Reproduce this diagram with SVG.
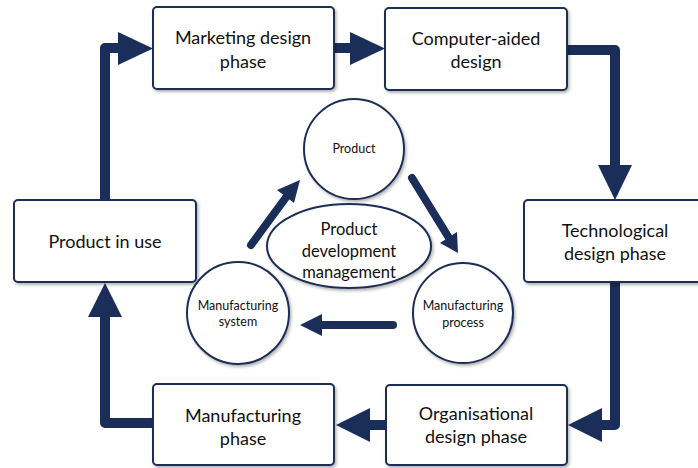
<svg xmlns="http://www.w3.org/2000/svg" width="698" height="468" viewBox="0 0 698 468">
<style>
.box{fill:#fff;stroke:#1d2d55;stroke-width:2;filter:url(#sh)}
.t{font-family:Lato,"Open Sans",sans-serif;fill:#111;text-anchor:middle}
.big{font-size:18px}
.mid{font-size:16.5px}
.sm{font-size:12.5px}
.flow{fill:none;stroke:#1b2e5a;stroke-width:10;stroke-linejoin:round}
.head{fill:#1b2e5a}
.inner{stroke:#1b2e5a;stroke-width:8;stroke-linecap:round;fill:none}
</style>
<defs>
<filter id="sh" x="-10%" y="-10%" width="130%" height="130%">
<feDropShadow dx="1.5" dy="2" stdDeviation="1.5" flood-color="#000" flood-opacity="0.3"/>
</filter>
</defs>
<g id="connectors">
<path class="flow" d="M105,200 V48 H125"/>
<polygon class="head" points="118,32 153,48.5 118,65"/>
<path class="flow" d="M334,48 H355"/>
<polygon class="head" points="350,32 385,48.5 350,65"/>
<path class="flow" d="M567,50 H615 V170"/>
<polygon class="head" points="598,165 632,165 615,200"/>
<path class="flow" d="M615,282 V425 H595"/>
<polygon class="head" points="602,408 602,442 568,425"/>
<path class="flow" d="M386,425 H365"/>
<polygon class="head" points="370,408 370,442 336,425"/>
<path class="flow" d="M153,423 H105 V310"/>
<polygon class="head" points="88,317 122,317 105,283"/>
<line class="inner" x1="251" y1="245" x2="287" y2="196"/>
<polygon class="head" points="277,190 300,180 294,203"/>
<line class="inner" x1="412" y1="178" x2="449" y2="238"/>
<polygon class="head" points="440,243 458,253 457,232"/>
<line class="inner" x1="393" y1="325" x2="320" y2="325"/>
<polygon class="head" points="322,314 322,336 300,325"/>
</g>
<g id="marketing"><rect class="box" x="153" y="7" width="181" height="82" rx="4"/><text class="t big" x="243" y="44">Marketing design</text><text class="t big" x="243" y="68">phase</text></g>
<g id="cad"><rect class="box" x="385" y="8" width="182" height="82" rx="4"/><text class="t big" x="476" y="45">Computer-aided</text><text class="t big" x="476" y="68">design</text></g>
<g id="tech"><rect class="box" x="524" y="200" width="185" height="82" rx="4"/><text class="t big" x="615" y="237">Technological</text><text class="t big" x="615" y="260">design phase</text></g>
<g id="org"><rect class="box" x="386" y="385" width="181" height="80" rx="4"/><text class="t big" x="476" y="420">Organisational</text><text class="t big" x="476" y="443">design phase</text></g>
<g id="mfgphase"><rect class="box" x="153" y="384" width="181" height="81" rx="4"/><text class="t big" x="243" y="422">Manufacturing</text><text class="t big" x="243" y="445">phase</text></g>
<g id="inuse"><rect class="box" x="14" y="200" width="182" height="82" rx="4"/><text class="t big" x="105" y="248">Product in use</text></g>
<g id="product"><circle class="box" cx="354" cy="149" r="50"/><text class="t sm" x="354" y="153">Product</text></g>
<g id="process"><circle class="box" cx="463" cy="313" r="50"/><text class="t sm" x="463" y="310">Manufacturing</text><text class="t sm" x="463" y="327">process</text></g>
<g id="system"><circle class="box" cx="238" cy="313" r="51"/><text class="t sm" x="238" y="310">Manufacturing</text><text class="t sm" x="238" y="326">system</text></g>
<g id="pdm"><ellipse class="box" cx="349" cy="246" rx="82" ry="42"/><text class="t mid" x="349" y="235">Product</text><text class="t mid" x="349" y="257">development</text><text class="t mid" x="349" y="278">management</text></g>
</svg>
